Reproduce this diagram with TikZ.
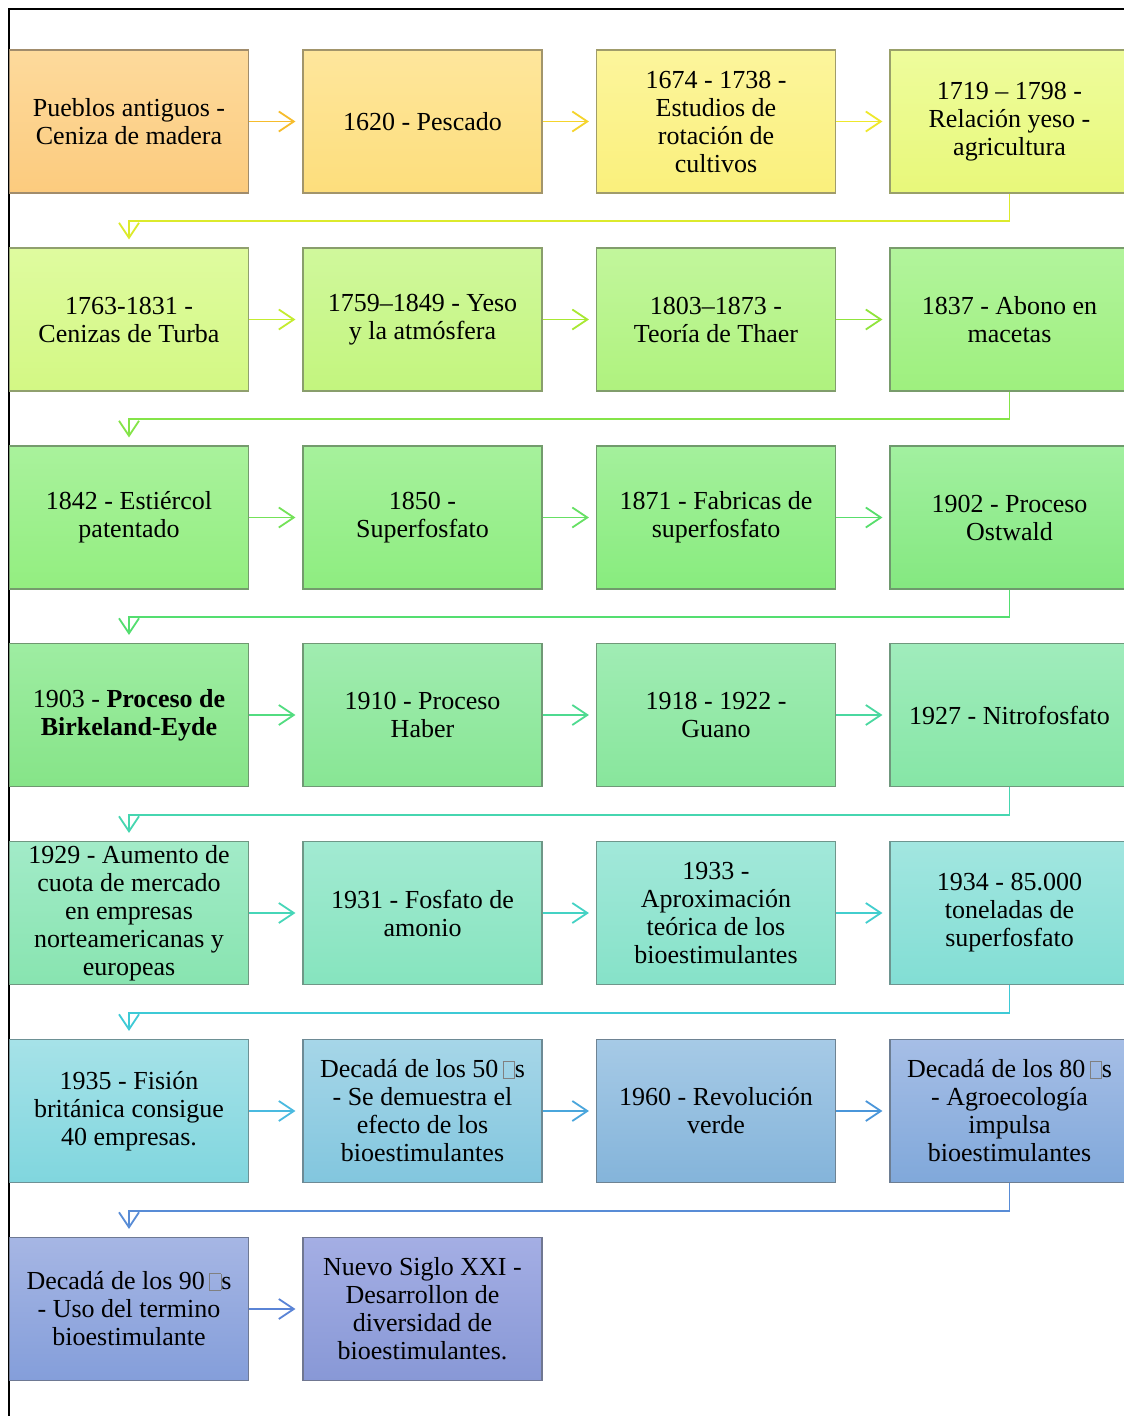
\documentclass[tikz,border=0pt]{standalone}
\usepackage{fontspec}
\setmainfont{Liberation Serif}
\usetikzlibrary{arrows.meta,calc}
\newcommand{\evfont}{\fontsize{26}{28}\selectfont}
\newcommand{\tofu}{\,{\color{gray}\fboxsep=0pt\fboxrule=0.6pt\fbox{\rule{0pt}{0.62em}\hspace{0.42em}}}}
% box colours (top T / bottom B)
\definecolor{b1T}{HTML}{FDDA9C}\definecolor{b1B}{HTML}{FCCB7E}
\definecolor{b2T}{HTML}{FEE69C}\definecolor{b2B}{HTML}{FDDE7C}
\definecolor{b3T}{HTML}{FCF59C}\definecolor{b3B}{HTML}{FAF07C}
\definecolor{b4T}{HTML}{EEFC9C}\definecolor{b4B}{HTML}{E8F87A}
\definecolor{b5T}{HTML}{DFFB9F}\definecolor{b5B}{HTML}{D3F884}
\definecolor{b6T}{HTML}{D0F89C}\definecolor{b6B}{HTML}{C3F57E}
\definecolor{b7T}{HTML}{C2F69C}\definecolor{b7B}{HTML}{AFF27E}
\definecolor{b8T}{HTML}{B2F49C}\definecolor{b8B}{HTML}{9EF07E}
\definecolor{b9T}{HTML}{A9F29C}\definecolor{b9B}{HTML}{93EE80}
\definecolor{b10T}{HTML}{A6F19C}\definecolor{b10B}{HTML}{8EED80}
\definecolor{b11T}{HTML}{A4F09C}\definecolor{b11B}{HTML}{88EC7E}
\definecolor{b12T}{HTML}{A2F0A0}\definecolor{b12B}{HTML}{84E880}
\definecolor{b13T}{HTML}{9EEDA2}\definecolor{b13B}{HTML}{86E488}
\definecolor{b14T}{HTML}{A0ECB0}\definecolor{b14B}{HTML}{88E694}
\definecolor{b15T}{HTML}{A0ECB4}\definecolor{b15B}{HTML}{88E69C}
\definecolor{b16T}{HTML}{A0ECBC}\definecolor{b16B}{HTML}{86E6A6}
\definecolor{b17T}{HTML}{A2EBC8}\definecolor{b17B}{HTML}{88E4B0}
\definecolor{b18T}{HTML}{A2EAD2}\definecolor{b18B}{HTML}{86E4BE}
\definecolor{b19T}{HTML}{A2E8DA}\definecolor{b19B}{HTML}{86E2C8}
\definecolor{b20T}{HTML}{A2E6E0}\definecolor{b20B}{HTML}{82DED4}
\definecolor{b21T}{HTML}{A6E2E8}\definecolor{b21B}{HTML}{80D6DE}
\definecolor{b22T}{HTML}{A6D6E8}\definecolor{b22B}{HTML}{82C6DE}
\definecolor{b23T}{HTML}{A6CAE6}\definecolor{b23B}{HTML}{84B4DA}
\definecolor{b24T}{HTML}{A6BEE6}\definecolor{b24B}{HTML}{80A8DA}
\definecolor{b25T}{HTML}{A6B6E4}\definecolor{b25B}{HTML}{849EDA}
\definecolor{b26T}{HTML}{A4AEE4}\definecolor{b26B}{HTML}{8898D6}
% arrow colours
\definecolor{a1}{HTML}{F6BC2C}\definecolor{a2}{HTML}{F5D42C}\definecolor{a3}{HTML}{EEE82C}\definecolor{c1}{HTML}{DCEA2C}
\definecolor{a5}{HTML}{C4EC30}\definecolor{a6}{HTML}{A8E832}\definecolor{a7}{HTML}{90E43C}\definecolor{c2}{HTML}{84E448}
\definecolor{a9}{HTML}{74E258}\definecolor{a10}{HTML}{66E064}\definecolor{a11}{HTML}{58DE6C}\definecolor{c3}{HTML}{54DE70}
\definecolor{a13}{HTML}{52DC80}\definecolor{a14}{HTML}{4EDA90}\definecolor{a15}{HTML}{4AD8A0}\definecolor{c4}{HTML}{46D6B0}
\definecolor{a17}{HTML}{46D6B8}\definecolor{a18}{HTML}{44D2C4}\definecolor{a19}{HTML}{42CECE}\definecolor{c5}{HTML}{3ECAD6}
\definecolor{a21}{HTML}{4ABAE0}\definecolor{a22}{HTML}{4AA6DC}\definecolor{a23}{HTML}{4A96DA}\definecolor{c6}{HTML}{588CD6}
\definecolor{a25}{HTML}{5A84D6}
\begin{document}
\begin{tikzpicture}[x=1pt,y=-1pt,
  ev/.style={draw=#1B!50!gray!85!black, line width=1.2pt, top color=#1T, bottom color=#1B,
    minimum width=239pt, minimum height=143pt, inner sep=0pt, align=center, font=\evfont},
  arr/.style={draw=#1, line width=1.8pt, -{Straight Barb[length=15pt,width=20pt]}, shorten >=7pt},
  conn/.style={draw=#1, line width=1.8pt, -{Straight Barb[length=15pt,width=20pt]}, shorten >=8pt}]
\useasboundingbox (0,0) rectangle (1124,1416);
\clip (0,0) rectangle (1124,1416);
\fill[white] (0,0) rectangle (1124,1416);
\draw[line width=2pt] (9,1416) -- (9,9) -- (1124,9);
% row 1
\node[ev=b1] (n1) at (129,121.5) {Pueblos antiguos -\\Ceniza de madera};
\node[ev=b2] (n2) at (422.5,121.5) {1620 - Pescado};
\node[ev=b3] (n3) at (716,121.5) {1674 - 1738 -\\Estudios de\\rotación de\\cultivos};
\node[ev=b4] (n4) at (1009.5,121.5) {1719 -- 1798 -\\Relación yeso -\\agricultura};
% row 2
\node[ev=b5] (n5) at (129,319.5) {1763-1831 -\\Cenizas de Turba};
\node[ev=b6] (n6) at (422.5,319.5) {1759--1849 - Yeso\\y la atmósfera};
\node[ev=b7] (n7) at (716,319.5) {1803--1873 -\\Teoría de Thaer};
\node[ev=b8] (n8) at (1009.5,319.5) {1837 - Abono en\\macetas};
% row 3
\node[ev=b9] (n9) at (129,517.5) {1842 - Estiércol\\patentado};
\node[ev=b10] (n10) at (422.5,517.5) {1850 -\\Superfosfato};
\node[ev=b11] (n11) at (716,517.5) {1871 - Fabricas de\\superfosfato};
\node[ev=b12] (n12) at (1009.5,517.5) {1902 - Proceso\\Ostwald};
% row 4
\node[ev=b13] (n13) at (129,715) {1903 - \textbf{Proceso de}\\\textbf{Birkeland-Eyde}};
\node[ev=b14] (n14) at (422.5,715) {1910 - Proceso\\Haber};
\node[ev=b15] (n15) at (716,715) {1918 - 1922 -\\Guano};
\node[ev=b16] (n16) at (1009.5,715) {1927 - Nitrofosfato};
% row 5
\node[ev=b17] (n17) at (129,913) {1929 - Aumento de\\cuota de mercado\\en empresas\\norteamericanas y\\europeas};
\node[ev=b18] (n18) at (422.5,913) {1931 - Fosfato de\\amonio};
\node[ev=b19] (n19) at (716,913) {1933 -\\Aproximación\\teórica de los\\bioestimulantes};
\node[ev=b20] (n20) at (1009.5,913) {1934 - 85.000\\toneladas de\\superfosfato};
% row 6
\node[ev=b21] (n21) at (129,1111) {1935 - Fisión\\británica consigue\\40 empresas.};
\node[ev=b22] (n22) at (422.5,1111) {Decadá de los 50\tofu s\\- Se demuestra el\\efecto de los\\bioestimulantes};
\node[ev=b23] (n23) at (716,1111) {1960 - Revolución\\verde};
\node[ev=b24] (n24) at (1009.5,1111) {Decadá de los 80\tofu s\\- Agroecología\\impulsa\\bioestimulantes};
% row 7
\node[ev=b25] (n25) at (129,1309) {Decadá de los 90\tofu s\\- Uso del termino\\bioestimulante};
\node[ev=b26] (n26) at (422.5,1309) {Nuevo Siglo XXI -\\Desarrollon de\\diversidad de\\bioestimulantes.};
% horizontal arrows
\draw[arr=a1] (n1) -- (n2);
\draw[arr=a2] (n2) -- (n3);
\draw[arr=a3] (n3) -- (n4);
\draw[arr=a5] (n5) -- (n6);
\draw[arr=a6] (n6) -- (n7);
\draw[arr=a7] (n7) -- (n8);
\draw[arr=a9] (n9) -- (n10);
\draw[arr=a10] (n10) -- (n11);
\draw[arr=a11] (n11) -- (n12);
\draw[arr=a13] (n13) -- (n14);
\draw[arr=a14] (n14) -- (n15);
\draw[arr=a15] (n15) -- (n16);
\draw[arr=a17] (n17) -- (n18);
\draw[arr=a18] (n18) -- (n19);
\draw[arr=a19] (n19) -- (n20);
\draw[arr=a21] (n21) -- (n22);
\draw[arr=a22] (n22) -- (n23);
\draw[arr=a23] (n23) -- (n24);
\draw[arr=a25] (n25) -- (n26);
% row-to-row connectors
\draw[conn=c1] (n4.south) -- ++(0,27.5) -| (n5.north);
\draw[conn=c2] (n8.south) -- ++(0,27.5) -| (n9.north);
\draw[conn=c3] (n12.south) -- ++(0,27.5) -| (n13.north);
\draw[conn=c4] (n16.south) -- ++(0,27.5) -| (n17.north);
\draw[conn=c5] (n20.south) -- ++(0,27.5) -| (n21.north);
\draw[conn=c6] (n24.south) -- ++(0,27.5) -| (n25.north);
\end{tikzpicture}
\end{document}
